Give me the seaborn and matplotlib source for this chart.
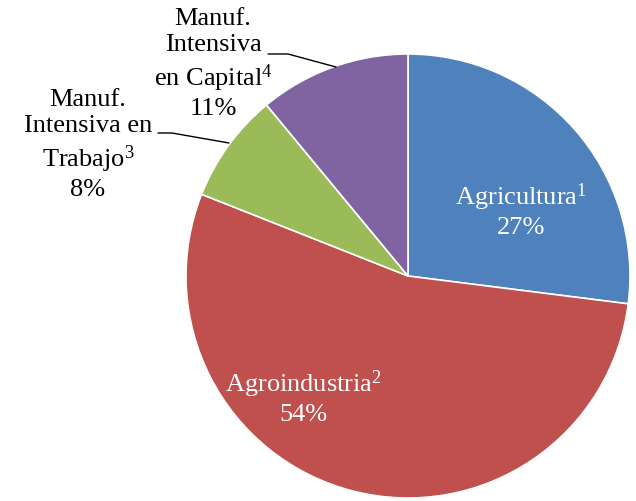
import matplotlib
matplotlib.use("Agg")
import matplotlib.pyplot as plt
import seaborn as sns

# ── Datos ─────────────────────────────────────────────────────────────────────
sectores = ["Agricultura", "Agroindustria", "Manuf. Intensiva en Trabajo", "Manuf. Intensiva en Capital"]
porcentajes = [27, 54, 8, 11]
colores = ["#4F81BD", "#C0504D", "#9BBB59", "#8064A2"]

sns.set_theme(style="white")
plt.rcParams["font.family"] = ["Liberation Serif", "DejaVu Serif"]

W, H = 636, 502
CX, CY, R = 408, 277, 222

def px(x, y):
    # pixeles de la imagen -> coordenadas de datos (radio = 1)
    return (x - CX) / R, (CY - y) / R

fig = plt.figure(figsize=(W / 100, H / 100), dpi=100)
ax = fig.add_axes([0, 0, 1, 1])
ax.pie(porcentajes, colors=colores, startangle=90, counterclock=False,
       wedgeprops=dict(edgecolor="white", linewidth=1.2))
ax.set_xlim(-CX / R, (W - CX) / R)
ax.set_ylim(-(H - CY) / R, CY / R)
ax.set_aspect("equal")
ax.axis("off")

fs = 19
etiquetas = [
    ("Agricultura$\\mathregular{^1}$\n27%", (521, 210), "white"),
    ("Agroindustria$\\mathregular{^2}$\n54%", (303, 397), "white"),
    ("Manuf.\nIntensiva en\nTrabajo$\\mathregular{^3}$\n8%", (88, 145), "black"),
    ("Manuf.\nIntensiva\nen Capital$\\mathregular{^4}$\n11%", (213, 64), "black"),
]
for txt, (x, y), c in etiquetas:
    ax.text(*px(x, y), txt, ha="center", va="center", color=c, fontsize=fs,
            linespacing=1.25)

# líneas guía
for pts in [[(158, 134), (172, 134), (229, 144)], [(268, 55), (288, 55), (336, 68)]]:
    xs, ys = zip(*[px(*p) for p in pts])
    ax.plot(xs, ys, color="black", lw=1)

fig.savefig("out.png", dpi=100)
